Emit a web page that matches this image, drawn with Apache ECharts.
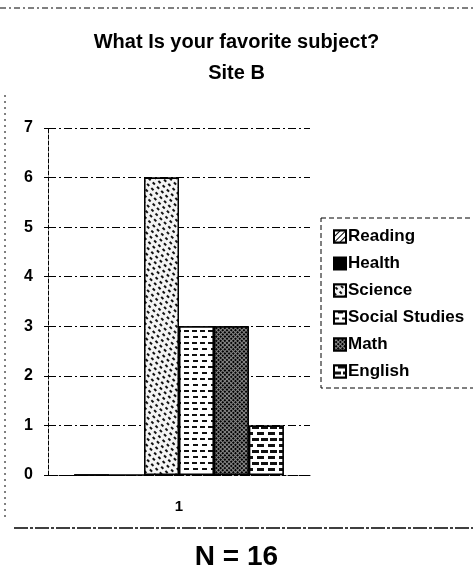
<!DOCTYPE html>
<html>
<head>
<meta charset="utf-8">
<script src="https://cdn.jsdelivr.net/npm/echarts@6/dist/echarts.min.js"></script>
<style>
  html, body { margin: 0; padding: 0; background: #fff; }
  #main { width: 473px; height: 581px; }
</style>
</head>
<body>
<div id="main"></div>
<script>
// data
const categories = ['1'];
const subjects = ['Reading', 'Health', 'Science', 'Social Studies', 'Math', 'English'];
const counts = [0, 0, 6, 3, 3, 1];
const yTicks = [0, 7, 1]; // min, max, interval

// fill patterns per subject (styles, not data)
const fills = [
  { color: '#fff', decal: { color: '#000', backgroundColor: '#fff', dashArrayX: [1, 0], dashArrayY: [1, 3], rotation: -Math.PI / 4 } },
  { color: '#000', decal: null },
  { color: '#fff', decal: { color: '#111', backgroundColor: '#f4f4f4', dashArrayX: [[3, 3], [0, 3, 3, 0]], dashArrayY: [2, 3], rotation: Math.PI / 4 } },
  { color: '#fff', decal: { color: '#111', backgroundColor: '#fff', dashArrayX: [[5, 3], [0, 4, 5, 0]], dashArrayY: [1.5, 4], rotation: 0 } },
  { color: '#333', decal: { color: '#000', backgroundColor: '#888', dashArrayX: [[2, 1]], dashArrayY: [2, 1], rotation: Math.PI / 4 } },
  { color: '#fff', decal: { color: '#111', backgroundColor: '#fff', dashArrayX: [[7, 2], [0, 4, 7, 0]], dashArrayY: [2.5, 3], rotation: 0 } }
];

const chart = echarts.init(document.getElementById('main'));
const font = 'Liberation Sans, Arial, sans-serif';

chart.setOption({
  animation: false,
  backgroundColor: '#fff',
  textStyle: { fontFamily: font },
  title: [
    {
      text: 'What Is your favorite subject?\nSite B',
      left: 'center', top: 22,
      textStyle: { fontSize: 20, fontWeight: 'bold', color: '#000', lineHeight: 31, fontFamily: font, align: 'center' }
    },
    {
      text: 'N = 16',
      left: 'center', top: 538,
      textStyle: { fontSize: 28, fontWeight: 'bold', color: '#000', fontFamily: font }
    }
  ],
  legend: {
    orient: 'vertical',
    left: 328, top: 223,
    itemWidth: 12, itemHeight: 12,
    itemGap: 10,
    icon: 'rect',
    textStyle: { fontSize: 17, fontWeight: 'bold', color: '#000', fontFamily: font, padding: [0, 0, 0, -3] },
    data: subjects
  },
  grid: { left: 48, right: 163, top: 128, bottom: 106 },
  xAxis: {
    type: 'category',
    data: categories,
    axisLine: { lineStyle: { color: '#000', type: 'dashed' } },
    axisTick: { alignWithLabel: true, length: 4, lineStyle: { color: '#000' } },
    axisLabel: { fontSize: 15, fontWeight: 'bold', color: '#000', margin: 24 }
  },
  yAxis: {
    type: 'value',
    min: yTicks[0], max: yTicks[1], interval: yTicks[2],
    axisLine: { show: true, lineStyle: { color: '#000', type: 'dashed' } },
    axisTick: { show: true, length: 4, inside: false, lineStyle: { color: '#000' } },
    axisLabel: { fontSize: 16, fontWeight: 'bold', color: '#000', margin: 15 },
    splitLine: { lineStyle: { color: '#000', type: [8, 3, 2, 3], width: 1 } }
  },
  series: subjects.map((name, i) => ({
    name: name,
    type: 'bar',
    data: [counts[i]],
    barGap: 0,
    barCategoryGap: '20%',
    itemStyle: Object.assign(
      { color: fills[i].color, borderColor: '#000', borderWidth: 1.5 },
      fills[i].decal ? { decal: fills[i].decal } : {}
    )
  })),
  graphic: [
    { type: 'line', shape: { x1: 0, y1: 8, x2: 473, y2: 8 }, style: { stroke: '#000', lineDash: [6, 3, 2, 3] } },
    { type: 'line', shape: { x1: 5, y1: 95, x2: 5, y2: 520 }, style: { stroke: '#000', lineDash: [2, 4] } },
    { type: 'line', shape: { x1: 14, y1: 528, x2: 473, y2: 528 }, style: { stroke: '#000', lineWidth: 1.5, lineDash: [14, 2, 3, 2] } },
    { type: 'rect', shape: { x: 321, y: 218, width: 160, height: 170 }, style: { fill: 'none', stroke: '#000', lineDash: [5, 3] } }
  ]
});
</script>
</body>
</html>
